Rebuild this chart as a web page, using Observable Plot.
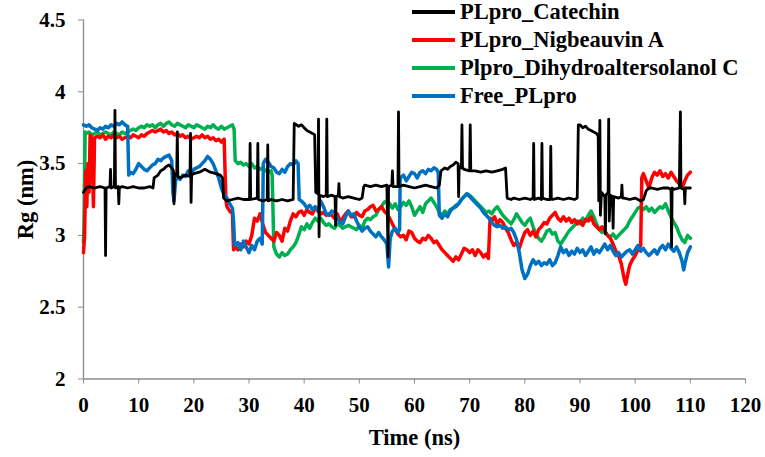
<!DOCTYPE html>
<html><head><meta charset="utf-8">
<script src="https://cdn.jsdelivr.net/npm/d3@7"></script>
<script src="https://cdn.jsdelivr.net/npm/@observablehq/plot@0.6"></script>
<style>
html,body{margin:0;padding:0;background:#fff;}
#wrap{position:relative;width:765px;height:457px;}
#legend{position:absolute;left:412px;top:-2px;font:bold 22.5px "Liberation Serif","Times New Roman",serif;color:#000;}
.row{display:flex;align-items:center;height:28px;white-space:nowrap;}
.sw{width:43px;height:3.5px;margin-right:5px;}
</style></head><body><div id="wrap"><div id="legend"></div></div>
<script>
const seriesNames = ["PLpro_Catechin","PLpro_Nigbeauvin A","Plpro_Dihydroaltersolanol C","Free_PLpro"];
const seriesColors = ["#000000","#ff0000","#00b050","#0070c0"];
const xTicks = [0,10,20,30,40,50,60,70,80,90,100,110,120];
const yTicks = [2,2.5,3,3.5,4,4.5];
const xLabel = "Time (ns)";
const yLabel = "Rg (nm)";

const catechin = [[0,3.3],[0.5,3.33],[1,3.34],[2,3.33],[3,3.34],[3.9,3.33],[4,2.86],[4.1,3.33],[4.8,3.34],[4.9,3.46],[5,3.33],[5.6,3.34],[5.7,3.87],[5.8,3.33],[6.3,3.34],[6.4,3.22],[6.5,3.33],[7,3.34],[8,3.33],[9,3.34],[10,3.33],[11,3.33],[12,3.34],[12.6,3.33],[12.8,3.4],[13.5,3.42],[14,3.45],[14.5,3.46],[15,3.48],[15.5,3.49],[16,3.47],[16.3,3.45],[16.4,3.22],[16.5,3.43],[16.9,3.42],[17,3.72],[17.1,3.41],[17.5,3.4],[18,3.41],[18.5,3.42],[19.3,3.41],[19.4,3.71],[19.5,3.23],[19.6,3.42],[20,3.43],[21,3.44],[22,3.46],[22.5,3.45],[23,3.44],[24,3.43],[24.8,3.42],[25.2,3.4],[25.4,3.26],[26,3.24],[27,3.25],[28,3.26],[29,3.25],[30.1,3.25],[30.2,3.64],[30.3,3.25],[31.5,3.26],[31.6,3.64],[31.7,3.25],[32.5,3.24],[33.3,3.25],[33.4,3.63],[33.5,3.24],[34,3.25],[35,3.24],[36,3.25],[37,3.24],[38,3.25],[38.2,3.78],[39,3.76],[39.5,3.77],[40,3.75],[40.5,3.73],[41,3.72],[41.5,3.71],[41.9,3.7],[42.1,3.3],[42.5,3.29],[42.6,3.81],[42.7,2.99],[42.8,3.28],[43.5,3.27],[44,3.28],[44.1,3.81],[44.2,3.27],[45,3.28],[45.6,3.27],[45.7,3.07],[45.8,3.27],[46.2,3.28],[46.3,3.36],[46.4,3.27],[47,3.26],[48,3.27],[49,3.26],[50,3.25],[50.5,3.26],[50.8,3.34],[51,3.35],[52,3.34],[53,3.35],[54,3.34],[55,3.35],[55.2,2.85],[55.3,3.34],[55.9,3.35],[56,3.45],[56.1,3.34],[57,3.34],[57.1,3.86],[57.2,3.34],[58,3.35],[59,3.34],[60,3.33],[61,3.34],[62,3.35],[63,3.34],[64,3.33],[64.5,3.35],[64.8,3.45],[65.5,3.47],[66,3.46],[66.5,3.48],[67,3.49],[67.5,3.51],[67.9,3.5],[68,3.27],[68.1,3.48],[68.5,3.47],[68.6,3.77],[68.7,3.47],[69,3.46],[70,3.45],[70.1,3.77],[70.2,3.45],[71,3.45],[72,3.44],[73,3.45],[74,3.44],[75,3.45],[76,3.46],[76.5,3.47],[76.8,3.26],[77.5,3.25],[78,3.26],[79,3.25],[80,3.26],[81,3.25],[81.5,3.26],[81.6,3.64],[81.7,3.25],[82.5,3.26],[83,3.25],[83.1,3.64],[83.2,3.26],[84,3.25],[84.6,3.25],[84.7,3.62],[84.8,3.26],[85,3.25],[86,3.26],[87,3.25],[88,3.26],[89,3.25],[89.5,3.26],[89.7,3.77],[90,3.77],[90.5,3.75],[91,3.76],[91.5,3.74],[92,3.73],[92.5,3.72],[93,3.71],[93.3,3.69],[93.4,3.24],[93.6,3.8],[93.7,3.14],[93.9,3.3],[94.5,3.27],[94.6,3.01],[94.7,3.28],[95.1,3.3],[95.2,3.81],[95.3,3.1],[95.5,3.28],[95.9,3.27],[96,3.05],[96.1,3.27],[97,3.26],[97.5,3.27],[97.6,3.35],[97.7,3.26],[98,3.26],[99,3.25],[100,3.26],[101,3.24],[101.5,3.25],[102,3.31],[102.5,3.33],[103,3.33],[104,3.32],[105,3.33],[106,3.33],[106.5,3.32],[106.6,2.92],[106.7,3.33],[107,3.32],[108,3.33],[108.2,3.86],[108.3,3.33],[108.9,3.32],[109,3.22],[109.1,3.33],[110,3.33]];

const nigbeauvin = [[0,2.88],[0.2,3.0],[0.4,3.45],[0.6,3.2],[0.8,3.5],[1.0,3.3],[1.2,3.7],[1.5,3.68],[1.8,3.2],[2.0,3.68],[2.5,3.69],[3,3.68],[3.5,3.7],[4,3.67],[4.5,3.69],[5,3.68],[5.5,3.7],[6,3.68],[6.5,3.69],[7,3.67],[7.5,3.68],[8,3.69],[8.5,3.68],[9,3.7],[9.5,3.69],[10,3.68],[10.5,3.7],[11,3.69],[11.5,3.71],[12,3.72],[12.5,3.73],[13,3.72],[13.5,3.73],[14,3.74],[14.5,3.72],[15,3.73],[15.5,3.71],[16,3.72],[16.5,3.7],[17,3.71],[17.5,3.69],[18,3.7],[18.5,3.68],[19,3.69],[19.5,3.67],[20,3.68],[20.5,3.69],[21,3.68],[21.5,3.7],[22,3.68],[22.5,3.69],[23,3.67],[23.5,3.68],[24,3.66],[24.5,3.67],[25,3.65],[25.5,3.67],[25.8,3.25],[26,3.2],[26.5,3.17],[27,3.15],[27.2,2.9],[27.5,2.92],[28,2.9],[28.5,2.94],[29,2.92],[29.5,2.96],[30,2.94],[30.5,3.0],[31,3.12],[31.5,3.1],[32,3.15],[32.5,3.08],[33,3.02],[33.5,3.0],[34,2.98],[34.5,2.96],[35,3.02],[35.5,3.0],[36,2.96],[36.5,3.05],[37,3.03],[37.5,3.1],[38,3.15],[38.5,3.13],[39,3.16],[39.5,3.17],[40,3.14],[40.5,3.18],[41,3.16],[41.5,3.15],[42,3.19],[42.5,3.17],[43,3.15],[43.5,3.16],[44,3.14],[44.5,3.15],[45,3.14],[45.5,3.12],[46,3.15],[46.5,3.1],[47,3.12],[47.5,3.15],[48,3.17],[48.5,3.13],[49,3.13],[49.5,3.16],[50,3.14],[50.5,3.13],[51,3.17],[51.5,3.18],[52,3.2],[52.5,3.21],[53,3.17],[53.5,3.18],[54,3.2],[54.5,3.17],[55,3.15],[55.5,3.12],[56,3.08],[56.5,3.04],[57,3.01],[57.5,2.99],[58,3.0],[58.5,2.97],[59,3.03],[59.5,3.02],[60,2.98],[60.5,2.96],[61,2.95],[61.5,2.98],[62,2.97],[62.5,3.0],[63,2.98],[63.5,2.95],[64,2.96],[64.5,2.93],[65,2.9],[65.5,2.88],[66,2.86],[66.5,2.84],[67,2.82],[67.5,2.85],[68,2.83],[68.5,2.87],[69,2.91],[69.5,2.9],[70,2.88],[70.5,2.9],[71,2.86],[71.5,2.9],[72,2.88],[72.5,2.85],[73,2.87],[73.4,2.84],[73.7,3.12],[74,3.1],[74.5,3.13],[75,3.08],[75.5,3.11],[76,3.09],[76.5,3.05],[77,3.02],[77.5,2.97],[78,2.93],[78.5,2.95],[79,2.91],[79.5,2.97],[80,3.02],[80.5,3.04],[81,3.0],[81.5,3.03],[82,2.99],[82.5,3.04],[83,3.06],[83.5,3.09],[84,3.08],[84.5,3.12],[85,3.14],[85.5,3.16],[86,3.12],[86.5,3.1],[87,3.13],[87.5,3.1],[88,3.12],[88.5,3.09],[89,3.11],[89.5,3.08],[90,3.1],[90.5,3.07],[91,3.11],[91.5,3.1],[92,3.13],[92.5,3.08],[93,3.06],[93.5,3.04],[94,3.06],[94.5,3.03],[95,3.0],[95.5,2.98],[96,2.94],[96.5,2.89],[97,2.86],[97.5,2.8],[98,2.7],[98.3,2.66],[98.6,2.72],[99,2.79],[99.5,2.83],[100,2.86],[100.5,2.9],[101,2.93],[101.2,3.4],[101.5,3.43],[102,3.38],[102.5,3.33],[103,3.4],[103.5,3.44],[104,3.42],[104.5,3.45],[105,3.41],[105.5,3.43],[106,3.4],[106.5,3.44],[107,3.41],[107.5,3.38],[108,3.36],[108.5,3.33],[109,3.38],[109.5,3.42],[110,3.44]];

const dihydro = [[0,2.95],[0.1,3.1],[0.3,3.72],[0.5,3.71],[1,3.72],[1.5,3.7],[2,3.71],[2.5,3.72],[3,3.7],[3.5,3.71],[4,3.72],[4.5,3.71],[5,3.7],[5.5,3.72],[6,3.71],[6.5,3.7],[7,3.72],[7.5,3.71],[8,3.72],[8.5,3.73],[9,3.74],[9.5,3.73],[10,3.75],[10.5,3.76],[11,3.75],[11.5,3.77],[12,3.76],[12.5,3.77],[13,3.75],[13.5,3.77],[14,3.78],[14.5,3.76],[15,3.78],[15.5,3.79],[16,3.77],[16.5,3.76],[17,3.78],[17.5,3.77],[18,3.76],[18.5,3.75],[19,3.77],[19.5,3.76],[20,3.75],[20.5,3.77],[21,3.76],[21.5,3.75],[22,3.74],[22.5,3.76],[23,3.75],[23.5,3.77],[24,3.75],[24.5,3.74],[25,3.76],[25.5,3.74],[26,3.75],[26.5,3.76],[27,3.77],[27.3,3.74],[27.5,3.52],[28,3.5],[28.5,3.51],[29,3.49],[29.5,3.5],[30,3.48],[30.5,3.5],[31,3.47],[31.5,3.48],[32,3.46],[32.5,3.47],[33,3.45],[33.5,3.44],[34,3.45],[34.2,3.42],[34.5,2.92],[35,2.87],[35.5,2.85],[36,2.88],[36.5,2.86],[37,2.87],[37.5,2.9],[38,2.92],[38.5,2.95],[39,3.0],[39.5,3.06],[40,3.04],[40.5,3.08],[41,3.05],[41.5,3.09],[42,3.12],[42.5,3.1],[43,3.12],[43.5,3.09],[44,3.07],[44.5,3.08],[45,3.06],[45.5,3.05],[46,3.08],[46.5,3.07],[47,3.05],[47.5,3.06],[48,3.07],[48.5,3.06],[49,3.05],[49.5,3.04],[50,3.07],[50.5,3.05],[51,3.1],[51.5,3.12],[52,3.11],[52.5,3.13],[53,3.14],[53.5,3.18],[54,3.2],[54.5,3.23],[55,3.24],[55.5,3.22],[56,3.19],[56.5,3.22],[57,3.18],[57.5,3.2],[58,3.23],[58.5,3.21],[59,3.24],[59.5,3.2],[60,3.14],[60.5,3.17],[61,3.2],[61.5,3.16],[62,3.22],[62.5,3.24],[63,3.26],[63.5,3.23],[64,3.2],[64.5,3.16],[65,3.14],[65.5,3.17],[66,3.15],[66.5,3.18],[67,3.19],[67.5,3.21],[68,3.22],[68.5,3.25],[69,3.27],[69.5,3.29],[70,3.28],[70.5,3.26],[71,3.24],[71.5,3.22],[72,3.2],[72.5,3.18],[73,3.16],[73.5,3.17],[74,3.15],[74.5,3.18],[75,3.2],[75.5,3.17],[76,3.14],[76.5,3.12],[77,3.1],[77.5,3.08],[78,3.11],[78.5,3.15],[79,3.12],[79.5,3.09],[80,3.07],[80.5,3.1],[81,3.12],[81.5,3.06],[82,3.01],[82.5,2.98],[83,2.96],[83.5,2.99],[84,3.03],[84.5,3.04],[85,3.01],[85.5,3.02],[86,2.96],[86.5,2.94],[87,2.97],[87.5,3.0],[88,3.03],[88.5,3.05],[89,3.07],[89.5,3.1],[90,3.08],[90.5,3.12],[91,3.1],[91.5,3.14],[92,3.17],[92.5,3.13],[93,3.08],[93.5,3.04],[94,3.02],[94.5,3.03],[95,3.0],[95.5,2.99],[96,3.01],[96.5,2.98],[97,3.0],[97.5,3.02],[98,3.04],[98.5,3.06],[99,3.1],[99.5,3.13],[100,3.16],[100.5,3.19],[101,3.2],[101.5,3.18],[102,3.2],[102.5,3.17],[103,3.19],[103.5,3.16],[104,3.18],[104.5,3.2],[105,3.19],[105.5,3.22],[106,3.17],[106.5,3.13],[107,3.09],[107.5,3.06],[108,3.01],[108.5,2.97],[109,2.95],[109.5,3.0],[110,2.98]];

const freePLpro = [[0,3.77],[0.5,3.76],[1,3.77],[1.5,3.75],[2,3.74],[2.5,3.73],[3,3.75],[3.5,3.74],[4,3.76],[4.5,3.75],[5,3.77],[5.5,3.76],[6,3.78],[6.5,3.77],[7,3.79],[7.5,3.77],[8,3.76],[8.2,3.42],[8.5,3.44],[9,3.43],[9.5,3.46],[10,3.5],[10.5,3.48],[11,3.46],[11.5,3.45],[12,3.47],[12.5,3.49],[13,3.5],[13.5,3.53],[14,3.52],[14.5,3.54],[15,3.55],[15.5,3.56],[16,3.52],[16.2,3.3],[16.4,3.24],[16.7,3.38],[17,3.41],[17.5,3.39],[18,3.42],[18.5,3.41],[19,3.45],[19.5,3.43],[20,3.46],[20.5,3.47],[21,3.48],[21.5,3.5],[22,3.52],[22.5,3.55],[23,3.53],[23.5,3.5],[24,3.45],[24.5,3.4],[25,3.33],[25.5,3.28],[26,3.26],[26.5,3.22],[27,3.19],[27.2,3.1],[27.4,2.93],[28,2.95],[28.5,2.9],[29,2.96],[29.5,2.92],[30,2.88],[30.5,2.93],[31,2.9],[31.5,2.96],[32,2.98],[32.4,2.94],[32.6,3.5],[33,3.53],[33.5,3.51],[34,3.48],[34.5,3.47],[35,3.44],[35.5,3.43],[36,3.46],[36.5,3.44],[37,3.48],[37.5,3.5],[38,3.49],[38.5,3.52],[38.9,3.5],[39.1,3.25],[39.5,3.24],[40,3.22],[40.5,3.19],[41,3.21],[41.5,3.18],[42,3.2],[42.5,3.17],[43,3.24],[43.5,3.2],[44,3.15],[44.5,3.14],[45,3.17],[45.5,3.16],[46,3.12],[46.5,3.09],[47,3.08],[47.5,3.13],[48,3.17],[48.5,3.14],[49,3.15],[49.5,3.1],[50,3.06],[50.5,3.03],[51,3.05],[51.5,3.06],[52,3.03],[52.5,3.01],[53,2.99],[53.5,3.02],[54,2.99],[54.5,2.97],[55,2.94],[55.3,2.78],[55.6,2.98],[56,3.03],[56.5,3.05],[57,3.02],[57.3,3.04],[57.4,3.4],[58,3.42],[58.5,3.38],[59,3.41],[59.5,3.44],[60,3.43],[60.5,3.4],[61,3.44],[61.5,3.45],[62,3.43],[62.5,3.46],[63,3.45],[63.5,3.47],[64,3.46],[64.3,3.44],[64.5,3.14],[65,3.12],[65.5,3.15],[66,3.13],[66.5,3.17],[67,3.19],[67.5,3.2],[68,3.22],[68.5,3.25],[69,3.27],[69.5,3.29],[70,3.27],[70.5,3.25],[71,3.23],[71.5,3.21],[72,3.19],[72.5,3.16],[73,3.14],[73.5,3.12],[74,3.09],[74.5,3.07],[75,3.06],[75.5,3.07],[76,3.05],[76.5,3.06],[77,3.04],[77.5,3.05],[78,3.02],[78.5,2.97],[79,2.88],[79.5,2.76],[80,2.7],[80.5,2.73],[81,2.79],[81.5,2.83],[82,2.8],[82.5,2.82],[83,2.79],[83.5,2.81],[84,2.8],[84.5,2.83],[85,2.79],[85.5,2.81],[86,2.86],[86.5,2.92],[87,2.88],[87.5,2.9],[88,2.86],[88.5,2.89],[89,2.87],[89.5,2.91],[90,2.88],[90.5,2.9],[91,2.86],[91.5,2.89],[92,2.92],[92.5,2.87],[93,2.9],[93.5,2.88],[94,2.91],[94.5,2.94],[95,2.9],[95.5,2.93],[96,2.89],[96.5,2.86],[97,2.88],[97.5,2.85],[98,2.87],[98.5,2.89],[99,2.9],[99.5,2.87],[100,2.9],[100.5,2.93],[101,2.89],[101.5,2.91],[102,2.88],[102.5,2.86],[103,2.88],[103.5,2.9],[104,2.87],[104.5,2.91],[105,2.93],[105.5,2.9],[106,2.94],[106.5,2.91],[107,2.89],[107.5,2.92],[108,2.88],[108.5,2.82],[108.8,2.76],[109,2.8],[109.5,2.88],[110,2.92]];

const font = '"Liberation Serif","Times New Roman",serif';
const axisGray = "#8c8c8c";
const lineSpec = [
  {data: dihydro, color: seriesColors[2], w: 3.5},
  {data: nigbeauvin, color: seriesColors[1], w: 3.5},
  {data: freePLpro, color: seriesColors[3], w: 3.5},
  {data: catechin, color: seriesColors[0], w: 2.8}
];

const chart = Plot.plot({
  width: 765, height: 457,
  marginLeft: 83, marginRight: 20, marginTop: 19.5, marginBottom: 78.5,
  style: {fontFamily: font, fontWeight: "bold", fontSize: "21px", color: "#000", background: "#fff"},
  x: {domain: [0, 120]},
  y: {domain: [2, 4.5]},
  marks: [
    Plot.axisX({ticks: xTicks, tickSize: 5, tickPadding: 13, stroke: axisGray, fill: "#000", fontSize: 21, fontWeight: "bold", tickFormat: d => String(d)}),
    Plot.axisY({ticks: yTicks, tickSize: 5, tickPadding: 13, stroke: axisGray, fill: "#000", fontSize: 21, fontWeight: "bold", tickFormat: d => String(d)}),
    Plot.axisX({ticks: [], label: xLabel, labelAnchor: "center", labelArrow: "none", labelOffset: 66, fontSize: 22.5, fontWeight: "bold", fill: "#000"}),
    Plot.axisY({ticks: [], label: yLabel, labelAnchor: "center", labelArrow: "none", labelOffset: 66, fontSize: 22.5, fontWeight: "bold", fill: "#000"}),
    Plot.ruleY([yTicks[0]], {stroke: axisGray, strokeWidth: 1.3}),
    Plot.ruleX([xTicks[0]], {stroke: axisGray, strokeWidth: 1.3}),
    ...lineSpec.map(s => Plot.line(s.data, {x: d => d[0], y: d => d[1], stroke: s.color, strokeWidth: s.w, strokeLinejoin: "round"}))
  ]
});
document.getElementById("wrap").prepend(chart);

const legend = document.getElementById("legend");
seriesNames.forEach((name, i) => {
  const row = document.createElement("div");
  row.className = "row";
  const sw = document.createElement("div");
  sw.className = "sw";
  sw.style.background = seriesColors[i];
  const tx = document.createElement("span");
  tx.textContent = name;
  row.append(sw, tx);
  legend.append(row);
});
</script>
</body></html>
